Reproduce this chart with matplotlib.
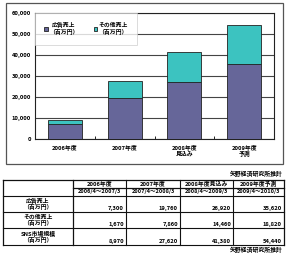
import matplotlib
matplotlib.use("Agg")
import matplotlib.pyplot as plt
from matplotlib.patches import Rectangle
from matplotlib.lines import Line2D
from matplotlib.legend_handler import HandlerPatch

plt.rcParams['font.family'] = ['Noto Sans CJK JP', 'DejaVu Sans']
plt.rcParams['font.weight'] = 'bold'

categories = ["2006年度", "2007年度", "2008年度\n見込み", "2009年度\n予測"]
ad_sales = [7300, 19760, 26920, 35620]
other_sales = [1670, 7860, 14460, 18820]
totals = [8970, 27620, 41380, 54440]
series_labels = ["広告売上\n（百万円）", "その他売上\n（百万円）"]
yticks = [0, 10000, 20000, 30000, 40000, 50000, 60000]

table_years = ["2006年度", "2007年度", "2008年度見込み", "2009年度予測"]
table_periods = ["2006/4～2007/3", "2007/4～2008/3", "2008/4～2009/3", "2009/4～2010/3"]
row_labels = ["広告売上\n（百万円）", "その他売上\n（百万円）", "SNS市場規模\n（百万円）"]
source = "矢野経済研究所推計"

W, H = 290, 254
fig = plt.figure(figsize=(W / 100, H / 100), dpi=100)

def fx(px):
    return px / W

def fy(py):
    return 1 - py / H

# outer chart frame
fig.patches.append(Rectangle((fx(6), fy(164)), fx(283) - fx(6), fy(3) - fy(164),
                             transform=fig.transFigure, fill=False,
                             edgecolor='#555555', lw=0.9))

ax = fig.add_axes([fx(35), fy(139), fx(274) - fx(35), fy(13) - fy(139)])
x = list(range(len(categories)))
purple = '#666699'
teal = '#3cc3c0'
b1 = ax.bar(x, ad_sales, width=0.57, color=purple, edgecolor='#222222', lw=0.6, zorder=3)
b2 = ax.bar(x, other_sales, bottom=ad_sales, width=0.57, color=teal, edgecolor='#222222',
            lw=0.6, zorder=3)
ax.set_xlim(-0.5, len(categories) - 0.5)
ax.set_ylim(0, 60000)
ax.set_yticks(yticks)
ax.set_yticklabels([f"{v:,}" for v in yticks], fontsize=4.2)
ax.set_xticks(x)
ax.set_xticklabels(categories, fontsize=4.2, linespacing=1.1)
ax.set_xticks([i + 0.5 for i in x[:-1]], minor=True)
ax.tick_params(axis='x', which='major', length=0, pad=4)
ax.tick_params(axis='x', which='minor', length=2, width=0.6, direction='in')
ax.tick_params(axis='y', length=0, pad=3)
ax.yaxis.grid(True, color='#444444', lw=0.8, zorder=0)
for s in ax.spines.values():
    s.set_color('#222222')
    s.set_linewidth(0.8)


def raised_square(legend, orig_handle, xdescent, ydescent, width, height, fontsize):
    return Rectangle((-xdescent, -ydescent + fontsize * 0.62), width, height)


handler = HandlerPatch(patch_func=raised_square)
leg = ax.legend([b1, b2], series_labels, ncol=2, loc='upper left',
                bbox_to_anchor=(0, 1), fontsize=4.2, frameon=True, fancybox=False,
                handlelength=0.6, handleheight=0.6, handletextpad=0.2,
                columnspacing=2.6, borderpad=1.6, borderaxespad=0.0,
                handler_map={type(b1.patches[0]): handler})
leg.get_frame().set_edgecolor('#cccccc')
leg.get_frame().set_linewidth(0.6)
leg.set_zorder(5)
for t in leg.get_texts():
    t.set_ha('center')
    t.set_multialignment('center')

# source notes
fig.text(fx(283), fy(174), source, fontsize=4.2, ha='right', va='center')
fig.text(fx(283), fy(250), source, fontsize=4.2, ha='right', va='center')

# table
col_x = [3, 73, 126, 180, 233, 284]
row_y = [180, 188, 196, 212, 228, 245]
lc = '#111111'

def hline(x0, x1, y, lw=0.7):
    fig.lines.append(Line2D([fx(x0), fx(x1)], [fy(y), fy(y)], transform=fig.transFigure,
                            color=lc, lw=lw))

def vline(x, y0, y1, lw=0.7):
    fig.lines.append(Line2D([fx(x), fx(x)], [fy(y0), fy(y1)], transform=fig.transFigure,
                            color=lc, lw=lw))

hline(col_x[0], col_x[-1], row_y[0], 0.9)
hline(col_x[1], col_x[-1], row_y[1], 0.9)
for y in row_y[2:]:
    hline(col_x[0], col_x[-1], y, 0.8)
for i, cx in enumerate(col_x):
    vline(cx, row_y[0], row_y[-1], 0.9 if i in (0, 1, len(col_x) - 1) else 0.8)

for j in range(4):
    cxm = (col_x[j + 1] + col_x[j + 2]) / 2
    fig.text(fx(cxm), fy((row_y[0] + row_y[1]) / 2), table_years[j], fontsize=4.2,
             ha='center', va='center')
    fig.text(fx(cxm), fy((row_y[1] + row_y[2]) / 2), table_periods[j], fontsize=4.0,
             ha='center', va='center')

table_values = [ad_sales, other_sales, totals]
for r in range(3):
    y0, y1 = row_y[r + 2], row_y[r + 3]
    fig.text(fx((col_x[0] + col_x[1]) / 2), fy((y0 + y1) / 2), row_labels[r], fontsize=4.2,
             ha='center', va='center', linespacing=1.0)
    for j in range(4):
        fig.text(fx(col_x[j + 2] - 2), fy(y1 - 1), f"{table_values[r][j]:,}", fontsize=4.2,
                 ha='right', va='bottom')

fig.savefig("out.png", dpi=100)
